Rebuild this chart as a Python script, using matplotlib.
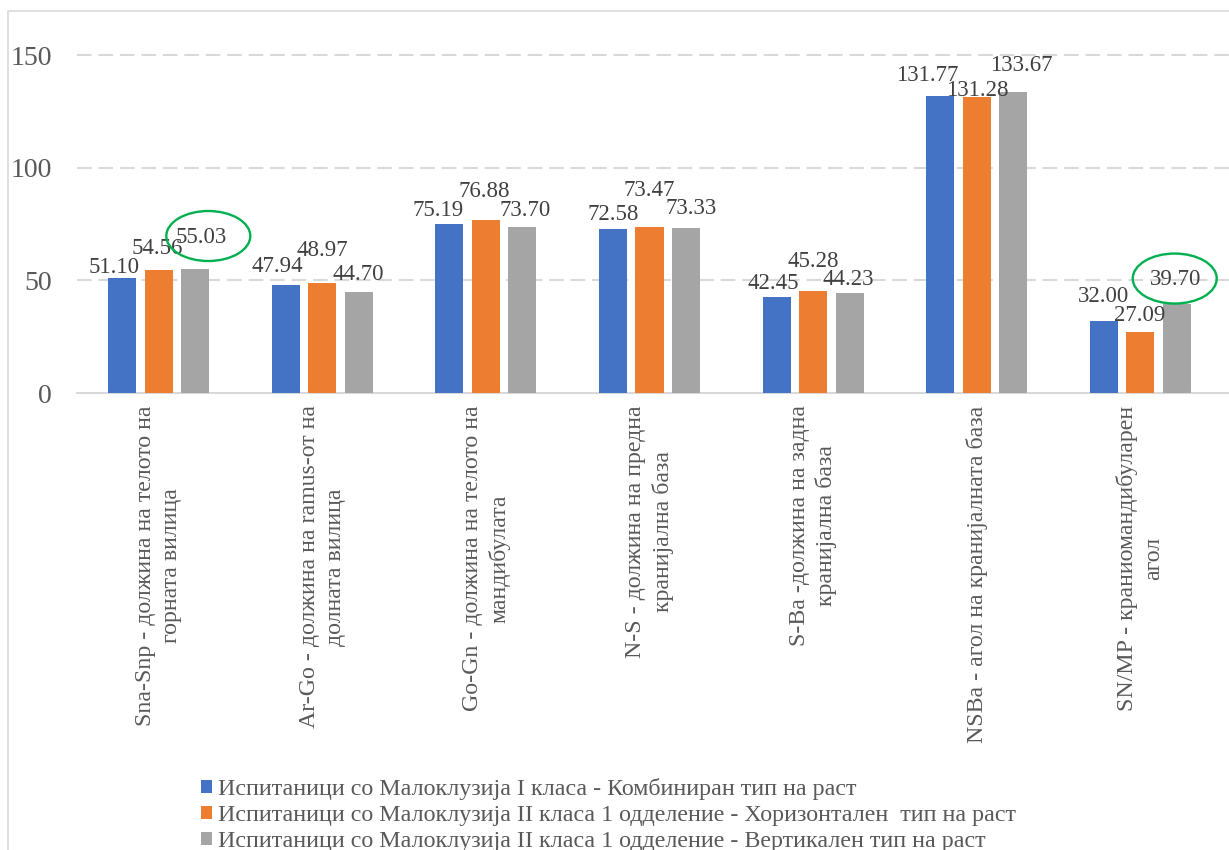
"""
Grouped bar chart - cephalometric measurements by malocclusion group
"""

import matplotlib
matplotlib.use('Agg')
import matplotlib.pyplot as plt
from matplotlib.patches import Patch, Ellipse
from matplotlib.lines import Line2D
from matplotlib.transforms import IdentityTransform
import numpy as np

# Category labels (x axis)
categories = [
    'Sna-Snp - должина на телото на\nгорната вилица',
    'Ar-Go - должина на ramus-от на\nдолната вилица',
    'Go-Gn - должина на телото на\nмандибулата',
    'N-S - должина на предна\nкранијална база',
    'S-Ba -должина на задна\nкранијална база',
    'NSBa - агол на кранијалната база',
    'SN/MP - краниомандибуларен\nагол',
]

# Series names
series_names = [
    'Испитаници со Малоклузија I класа - Комбиниран тип на раст',
    'Испитаници со Малоклузија II класа 1 одделение - Хоризонтален  тип на раст',
    'Испитаници со Малоклузија II класа 1 одделение - Вертикален тип на раст',
]

# Series values
class1_combined = [51.10, 47.94, 75.19, 72.58, 42.45, 131.77, 32.00]
class2_horizontal = [54.56, 48.97, 76.88, 73.47, 45.28, 131.28, 27.09]
class2_vertical = [55.03, 44.70, 73.70, 73.33, 44.23, 133.67, 39.70]

y_ticks = [0, 50, 100, 150]

# Labels circled in green: (series index, category index, ellipse x nudge in px)
highlighted = [(2, 0, 7), (2, 6, -1)]

colors = ['#4472c4', '#ed7d31', '#a5a5a5']

# Hand-placed data label offsets in pixels (dx, dy above bar top), as in the original
label_offsets = [
    [(-8, 10), (-9, 18), (-11, 13), (0, 15), (-3, 14), (-13, 21), (0, 24)],
    [(-2, 22), (0, 32), (-2, 28), (0, 37), (0, 29), (1, 7), (-1, 16)],
    [(6, 32), (-1, 18), (3, 16), (5, 19), (-1, 14), (8, 26), (-1, 24)],
]

W, H = 1229, 850


def main():
    plt.rcParams['font.family'] = ['Liberation Serif', 'DejaVu Serif']

    fig = plt.figure(figsize=(W / 100, H / 100), dpi=100)
    # axes placed in pixel terms to match the reference crop
    left, right, bottom, top = 77, 1229, 393, 32.5
    ax = fig.add_axes([left / W, 1 - bottom / H, (right - left) / W, (bottom - top) / H])

    all_series = [class1_combined, class2_horizontal, class2_vertical]
    x = np.arange(len(categories))
    step = 36.5 / 163.5
    bar_w = 28 / 163.5

    ax.set_xlim(-0.5, -0.5 + 7 * (right - left) / (1222 - left))
    ax.set_ylim(0, 160)

    rings = {(i, j): nudge for i, j, nudge in highlighted}

    for i, (vals, col, name) in enumerate(zip(all_series, colors, series_names)):
        xs = x + (i - 1) * step
        ax.bar(xs, vals, width=bar_w, color=col, label=name, zorder=3)

        for j, (xx, v) in enumerate(zip(xs, vals)):
            dx, dy = label_offsets[i][j]
            ax.annotate(f'{v:.2f}', xy=(xx, v), xytext=(dx, dy),
                        textcoords='offset pixels', ha='center', va='center',
                        fontsize=16.5, color='#404040',
                        annotation_clip=False, zorder=5)
            if (i, j) in rings:
                # green ellipse drawn in pixel space around the label
                px, py = ax.transData.transform((xx, v))
                ring = Ellipse((px + dx + rings[(i, j)], py + dy + 1), 84, 50,
                               transform=IdentityTransform(), fill=False,
                               ec='#00b050', lw=1.7, zorder=6)
                fig.add_artist(ring)

    # axes styling
    for s in ['top', 'right', 'left']:
        ax.spines[s].set_visible(False)
    ax.spines['bottom'].set_color('#d9d9d9')
    ax.spines['bottom'].set_linewidth(1.5)

    ax.set_yticks(y_ticks)
    ax.set_yticklabels([str(t) for t in y_ticks])
    ax.tick_params(axis='y', length=0, pad=18, labelsize=20, labelcolor='#595959')
    for t in y_ticks[1:]:
        ax.axhline(t, color='#d9d9d9', lw=1.5, ls=(0, (7, 3.3)), zorder=1)

    ax.set_xticks(x)
    ax.set_xticklabels(categories, rotation=90, ha='center', va='top',
                       multialignment='center', linespacing=1.3)
    ax.tick_params(axis='x', length=0, pad=9, labelsize=17.2, labelcolor='#595959')

    # legend below the chart
    handles = [Patch(facecolor=c, edgecolor='none') for c in colors]
    leg = fig.legend(handles, series_names, loc='upper left',
                     bbox_to_anchor=(201 / W, 1 - 778 / H), frameon=False,
                     fontsize=17.3, handlelength=0.46, handleheight=0.46,
                     handletextpad=0.25, labelspacing=0.2,
                     borderpad=0, borderaxespad=0)
    for t in leg.get_texts():
        t.set_color('#595959')

    # chart frame (only left and top edges visible in the crop)
    fig.add_artist(Line2D([8 / W, 8 / W, 1], [0, 1 - 11 / H, 1 - 11 / H],
                          color='#d9d9d9', lw=1.2, transform=fig.transFigure))

    fig.savefig('out.png', dpi=100)
    plt.close(fig)


if __name__ == '__main__':
    main()
